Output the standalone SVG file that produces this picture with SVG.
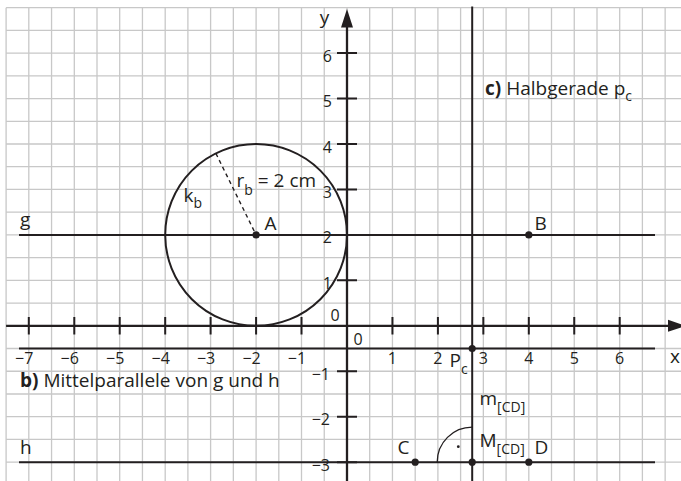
<svg xmlns="http://www.w3.org/2000/svg" width="681" height="481" viewBox="0 0 681 481">
<style>
.grid{stroke:#c8c8c8;stroke-width:1.3;fill:none}
.ln{stroke:#231f20;stroke-width:2;fill:none}
.ax{stroke:#231f20;stroke-width:2.3;fill:none}
.tk{stroke:#231f20;stroke-width:2;fill:none}
.thin{stroke:#231f20;stroke-width:1.3;fill:none}
.dash{stroke:#231f20;stroke-width:1.4;stroke-dasharray:4 3.5;fill:none}
.pt{fill:#231f20}
text{font-family:"Open Sans","Liberation Sans",sans-serif;fill:#231f20}
.num{font-size:16px}
.lbl{font-size:19px}
.sub{font-size:14px}
.b{font-weight:bold}
</style>
<rect width="681" height="481" fill="#ffffff"/>
<g id="grid">
<path class="grid" d="M6.1 7.65V481M28.8 7.65V481M51.55 7.65V481M74.3 7.65V481M97 7.65V481M119.7 7.65V481M142.45 7.65V481M165.2 7.65V481M187.9 7.65V481M210.6 7.65V481M233.35 7.65V481M256.1 7.65V481M278.8 7.65V481M301.5 7.65V481M324.25 7.65V481M347 7.65V481M369.7 7.65V481M392.45 7.65V481M415.2 7.65V481M437.9 7.65V481M460.6 7.65V481M483.35 7.65V481M506.1 7.65V481M528.8 7.65V481M551.5 7.65V481M574.25 7.65V481M597 7.65V481M619.7 7.65V481M642.4 7.65V481M665.15 7.65V481"/>
<path class="grid" d="M6.1 7.65H681M6.1 30.4H681M6.1 53.1H681M6.1 75.8H681M6.1 98.55H681M6.1 121.3H681M6.1 144H681M6.1 166.7H681M6.1 189.45H681M6.1 212.2H681M6.1 234.9H681M6.1 257.6H681M6.1 280.35H681M6.1 303.1H681M6.1 325.8H681M6.1 348.5H681M6.1 371.25H681M6.1 394H681M6.1 416.7H681M6.1 439.4H681M6.1 462.15H681"/>
</g>
<g id="axes">
<path class="ax" d="M6.1 325.8H670M347 26V481"/>
<polygon class="pt" points="347,9 341,27.5 353,27.5"/>
<polygon class="pt" points="686,325.8 668,319.8 668,331.8"/>
<path class="tk" d="M28.8 317V334.6M74.3 317V334.6M119.7 317V334.6M165.2 317V334.6M210.6 317V334.6M256.1 317V334.6M301.5 317V334.6M392.45 317V334.6M437.9 317V334.6M483.35 317V334.6M528.8 317V334.6M574.25 317V334.6M619.7 317V334.6"/>
<path class="tk" d="M337 53.1H357M337 98.55H357M337 144H357M337 189.45H357M337 280.35H357M337 371.25H357M337 416.7H357M337 462.15H357"/>
</g>
<g id="connectors">
<path class="ln" d="M19 234.9H655"/>
<path class="ln" d="M19 462.15H655"/>
<path class="ln" d="M19 348.5H655"/>
<path class="ln" d="M472.2 6.5V481"/>
<circle class="ln" cx="256.1" cy="234.9" r="90.9"/>
<path class="dash" d="M215.9 153.4L256.1 234.9"/>
<path class="thin" d="M437.2 462.15A35 35 0 0 1 472.2 427.15"/>
<circle class="pt" cx="458.3" cy="446.7" r="1.4"/>
</g>
<g id="labels-axes">
<text class="num" x="33.4" y="364" text-anchor="end">−7</text>
<text class="num" x="78.9" y="364" text-anchor="end">−6</text>
<text class="num" x="124.3" y="364" text-anchor="end">−5</text>
<text class="num" x="169.8" y="364" text-anchor="end">−4</text>
<text class="num" x="215.2" y="364" text-anchor="end">−3</text>
<text class="num" x="260.7" y="364" text-anchor="end">−2</text>
<text class="num" x="306.1" y="364" text-anchor="end">−1</text>
<text class="num" x="392.45" y="364" text-anchor="middle">1</text>
<text class="num" x="437.9" y="364" text-anchor="middle">2</text>
<text class="num" x="483.35" y="364" text-anchor="middle">3</text>
<text class="num" x="528.8" y="364" text-anchor="middle">4</text>
<text class="num" x="574.25" y="364" text-anchor="middle">5</text>
<text class="num" x="619.7" y="364" text-anchor="middle">6</text>
<text class="lbl" x="675" y="363" text-anchor="middle">x</text>
<text class="lbl" x="324.5" y="24" text-anchor="middle">y</text>
<text class="num" x="332" y="61.5" text-anchor="end">6</text>
<text class="num" x="332" y="107" text-anchor="end">5</text>
<text class="num" x="332" y="152.5" text-anchor="end">4</text>
<text class="num" x="332" y="197.5" text-anchor="end">3</text>
<text class="num" x="332" y="243" text-anchor="end">2</text>
<text class="num" x="332" y="288.5" text-anchor="end">1</text>
<text class="num" x="330" y="379.5" text-anchor="end">−1</text>
<text class="num" x="330" y="425" text-anchor="end">−2</text>
<text class="num" x="330" y="470.5" text-anchor="end">−3</text>
<text class="num" x="335" y="321" text-anchor="middle">0</text>
<text class="num" x="358" y="345" text-anchor="middle">0</text>
</g>
<g id="g-label"><text class="lbl" x="20" y="225.5">g</text></g>
<g id="h-label"><text class="lbl" x="20" y="454">h</text></g>
<g id="point-A"><circle class="pt" cx="256.1" cy="234.9" r="3.6"/><text class="lbl" x="264.5" y="230">A</text></g>
<g id="point-B"><circle class="pt" cx="528.8" cy="234.9" r="3.6"/><text class="lbl" x="534.5" y="230">B</text></g>
<g id="point-C"><circle class="pt" cx="415.2" cy="462.15" r="3.6"/><text class="lbl" x="397.5" y="454">C</text></g>
<g id="point-D"><circle class="pt" cx="528.8" cy="462.15" r="3.6"/><text class="lbl" x="534.5" y="454">D</text></g>
<g id="point-M"><circle class="pt" cx="472.2" cy="462.15" r="3.6"/><text class="lbl" x="479.5" y="447">M<tspan class="sub" dy="7">[CD]</tspan></text></g>
<g id="point-Pc"><circle class="pt" cx="472.2" cy="348.5" r="3.6"/><text class="lbl" x="449.5" y="367">P<tspan class="sub" dy="7">c</tspan></text></g>
<g id="label-m"><text class="lbl" x="479.5" y="405">m<tspan class="sub" dy="7">[CD]</tspan></text></g>
<g id="label-kb"><text class="lbl" x="183.5" y="201.5">k<tspan class="sub" dy="6.5">b</tspan></text></g>
<g id="label-rb"><text class="lbl" x="236.5" y="186.7">r<tspan class="sub" dy="8">b</tspan><tspan dy="-8"> = 2 cm</tspan></text></g>
<g id="label-c"><text class="lbl" x="485" y="95"><tspan class="b">c)</tspan> Halbgerade p<tspan class="sub" dy="6">c</tspan></text></g>
<g id="label-b"><text class="lbl" x="20" y="387"><tspan class="b">b)</tspan> Mittelparallele von g und h</text></g>
</svg>
